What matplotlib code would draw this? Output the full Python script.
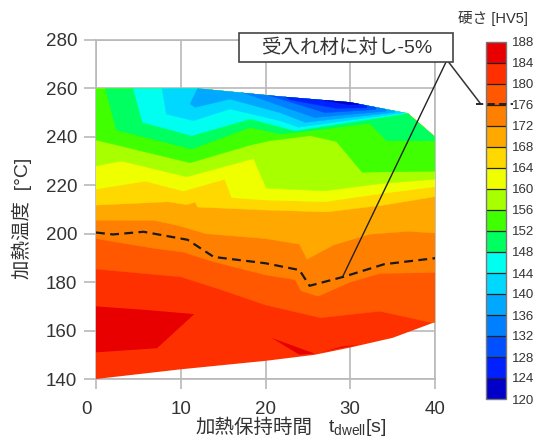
import matplotlib
matplotlib.use("Agg")
import matplotlib.pyplot as plt
from matplotlib.colors import ListedColormap, BoundaryNorm
from matplotlib.cm import ScalarMappable
from matplotlib.patches import Polygon, Rectangle
from matplotlib.lines import Line2D
from matplotlib.transforms import ScaledTranslation

plt.rcParams['font.family'] = ['Liberation Sans', 'Noto Sans CJK JP', 'DejaVu Sans']

levels = [120,124,128,132,136,140,144,148,152,156,160,164,168,172,176,180,184,188]
colors = ['#0000C8','#0020FF','#0050FF','#0080FF','#00A8FF','#00D8FF','#00FFF0','#00FF60',
          '#40FF00','#A8FF00','#F0FF00','#FFD800','#FFA800','#FF8000','#FF5800','#FF3000','#E80000']

env_top_x = [0,12,21.7,30,36.8,40]
env_top_y = [260,260,256.7,254.3,249.7,240]
env_bot_x = [0,10,20,25.8,30,35,40]
env_bot_y = [140,144,147.5,150,153,157,163.5]

b180_x = [0,10,14.3,20,26.5,33.5,40]
b180_y = [185.4,182.2,177.4,170.6,165.3,168,163]
b176_x = [0,6.8,10.3,13.9,20,23.5,24.2,26.2,30,33.5,40]
b176_y = [198,194,192.4,188.4,183,181,176.4,174.2,180,183.6,184]
b172_x = [0,6.8,9.5,13,20,24,24.9,28,32.3,36.9,40]
b172_y = [205.6,205.5,203.6,200,198,195.7,189.5,195.3,199.8,201,200.3]
b168_x = [0,8.5,10.7,11.7,12,20,27.2,33.9,40]
b168_y = [211.8,213.2,212,213,211,209.8,209,211.8,215.3]
b164_x = [0,5.8,10.3,15.2,16,20,27,33.9,40]
b164_y = [218.4,221.7,217.6,222.5,214.9,213.9,213.2,216.7,219.4]
b160_x = [0,3,10.7,18.6,20.1,27,33.9,40]
b160_y = [228,230,223.5,231,218.8,217.7,220.8,222.5]
b156_x = [0,11.1,18.2,20.5,25.3,28.4,31.4,40]
b156_y = [238.7,229.3,236.6,238.4,240.5,238,225.4,225.8]
b152_x = [1.1,2.4,11.3,18.2,21.7,23.7,32.3,34.3,40]
b152_y = [260,242.8,235,243.9,241.2,241.9,245.6,238.4,238.4]
b148_x = [4.4,5.5,11.3,18.2,23.5,36.8]
b148_y = [260,246,240.5,247.4,242.5,249.7]
b144_x = [7.8,8.3,11.5,15.8,21.7,23.9,36.2]
b144_y = [260,249.4,246.7,251.5,246.7,244,249.9]
b140_x = [12,11.1,11.7,15.8,21.7,24.7,35.2]
b140_y = [260,253.6,252.2,255.6,250,246,250.1]
b136_x = [16,17.8,21.7,25.8,34.2]
b136_y = [260,257.7,252.9,248,250.6]
b132_x = [19,20.5,27,33]
b132_y = [260,257,250,251.3]
b128_x = [21,22.9,28.4,31.9]
b128_y = [260,255.3,251.8,252]
b124_x = [25.5,27,29.7,31]
b124_y = [260,255,253.4,253.2]

peak_a_x = [0,6,11.6,7.2,0]
peak_a_y = [170,168.5,166.8,152.7,151]
peak_b_x = [20.7,25.8,24]
peak_b_y = [157,150.5,150]
peak_c_x = [26.5,29,31,28.5]
peak_c_y = [151,153.4,154.3,152.5]

dash_x = [0,2,5.6,10.8,13.9,20,24,25.2,29.2,34,40]
dash_y = [200.5,199.7,200.8,197.5,190.4,187.8,185,178.5,182.2,187.4,189.9]

x_ticks = [0,10,20,30,40]
y_ticks = [140,160,180,200,220,240,260,280]

W, H = 534, 437
fig = plt.figure(figsize=(W/100, H/100), dpi=100)
def box(l, t, r, b):
    return [l/W, 1-b/H, (r-l)/W, (b-t)/H]

GRID = '#b9b9b9'
TXT = '#333333'
ax = fig.add_axes(box(96, 40, 435, 379))
ax.set_xlim(0, 40)
ax.set_ylim(140, 280)
ax.set_xticks(x_ticks)
ax.set_yticks(y_ticks)
ax.grid(True, color=GRID, lw=1.2, zorder=0)
ax.set_axisbelow(True)
for s in ax.spines.values():
    s.set_color(GRID); s.set_linewidth(1.2); s.set_zorder(0.5)
ax.tick_params(axis='y', length=8.5, width=1.2, color=GRID, labelsize=13.5, labelcolor=TXT, pad=5)
ax.tick_params(axis='x', length=7, width=1.2, color=GRID, labelsize=13.5, labelcolor=TXT, pad=9)
zero_label = ax.get_xticklabels()[0]
zero_label.set_transform(zero_label.get_transform() + ScaledTranslation(-9/100, 0, fig.dpi_scale_trans))

envelope = list(zip(env_top_x, env_top_y)) + list(zip(env_bot_x[::-1], env_bot_y[::-1]))
env = Polygon(envelope, closed=True, fc=colors[15], ec='none', zorder=1)
ax.add_patch(env)

bands = [(b180_x,b180_y,14),(b176_x,b176_y,13),(b172_x,b172_y,12),(b168_x,b168_y,11),
         (b164_x,b164_y,10),(b160_x,b160_y,9),(b156_x,b156_y,8),(b152_x,b152_y,7),
         (b148_x,b148_y,6),(b144_x,b144_y,5),(b140_x,b140_y,4),(b136_x,b136_y,3),
         (b132_x,b132_y,2),(b128_x,b128_y,1),(b124_x,b124_y,0)]
z = 2
for xs, ys, ci in bands:
    pts = list(zip(xs, ys)) + [(xs[-1], 300), (xs[0], 300)]
    p = Polygon(pts, closed=True, fc=colors[ci], ec=colors[ci], lw=0.3, zorder=z)
    ax.add_patch(p)
    p.set_clip_path(env)
    z += 0.01
for xs, ys in [(peak_a_x,peak_a_y),(peak_b_x,peak_b_y),(peak_c_x,peak_c_y)]:
    p = Polygon(list(zip(xs, ys)), closed=True, fc=colors[16], ec='none', zorder=3)
    ax.add_patch(p)
    p.set_clip_path(env)

ax.plot(dash_x, dash_y, color='#1a1a1a', lw=1.6, ls=(0, (4, 2.4)), zorder=5)

# colour bar
cax = fig.add_axes(box(486, 42, 506, 399))
sm = ScalarMappable(norm=BoundaryNorm(levels, len(colors)), cmap=ListedColormap(colors))
cb = fig.colorbar(sm, cax=cax, ticks=levels, spacing='uniform', drawedges=True)
cb.dividers.set_color('#222222'); cb.dividers.set_linewidth(0.9)
cb.outline.set_edgecolor('#777777'); cb.outline.set_linewidth(1.0)
cax.tick_params(length=0, labelsize=9.5, labelcolor=TXT, pad=4)
fig.text(493/W, 1-19/H, '硬さ [HV5]', fontsize=10.5, color=TXT, ha='center', va='center')

# annotation overlay, pixel coordinates of the figure
ov = fig.add_axes([0, 0, 1, 1], zorder=10)
ov.set_xlim(0, W); ov.set_ylim(H, 0); ov.axis('off'); ov.patch.set_alpha(0)
ov.add_patch(Rectangle((239, 32.5), 214, 29, fc='white', ec='#444444', lw=1.2, zorder=2))
ov.text(347, 47.5, '受入れ材に対し-5%', fontsize=14, color=TXT, ha='center', va='center', zorder=3)
ov.add_line(Line2D([447, 343], [60, 276], color='#222222', lw=1.0, zorder=1))
ov.add_line(Line2D([447, 480], [60, 103], color='#333333', lw=1.1, zorder=1))
ov.add_line(Line2D([476, 513], [104, 104], color='#1a1a1a', lw=1.3, ls=(0, (4, 2.4)), zorder=1))

fig.text(22/W, 1-218/H, '加熱温度  [°C]', rotation=90, fontsize=14, color=TXT, ha='center', va='center')
fig.text(195/W, 1-428/H, '加熱保持時間', fontsize=14, color=TXT, ha='left', va='center')
fig.text(328/W, 1-428/H, 't$_{\\mathregular{dwell}}$[s]', fontsize=14, color=TXT, ha='left', va='center')

fig.savefig('out.png', dpi=100)
